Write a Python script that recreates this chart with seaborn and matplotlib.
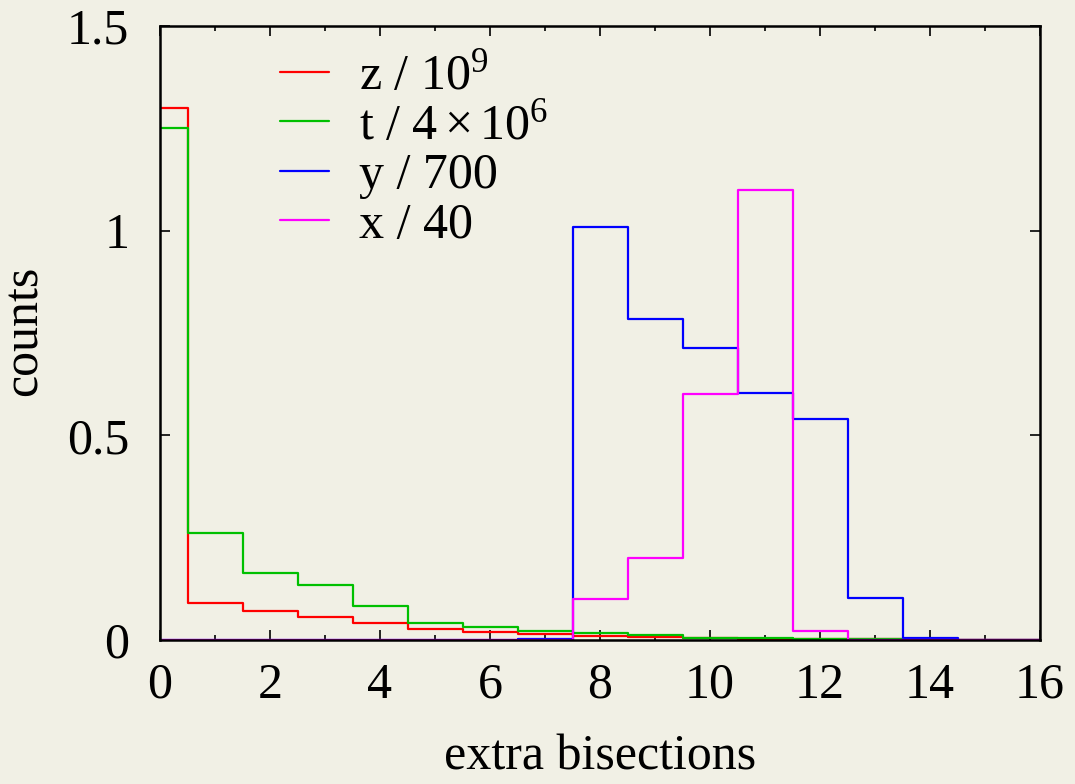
import numpy as np
import pandas as pd
import matplotlib
matplotlib.use("Agg")
import matplotlib.pyplot as plt
import seaborn as sns

# histogram values per bin (bins centred on integers 0..16)
bisections = list(range(17))
z_vals = [1.30, 0.090, 0.070, 0.056, 0.041, 0.028, 0.019, 0.014, 0.010,
          0.0066, 0.004, 0.003, 0.002, 0.0015, 0.001, 0.0005, 0.0005]
t_vals = [1.25, 0.262, 0.164, 0.135, 0.082, 0.041, 0.032, 0.022, 0.016,
          0.011, 0.006, 0.004, 0.003, 0.002, 0.002, 0.001, 0.001]
y_vals = [0, 0, 0, 0, 0, 0, 0, 0.002, 1.01, 0.785, 0.714, 0.604, 0.540,
          0.102, 0.006, 0.001, 0]
x_vals = [0, 0, 0, 0, 0, 0, 0, 0, 0.100, 0.200, 0.600, 1.100, 0.023,
          0, 0, 0, 0]

labels = [r"z / $10^9$", r"t / $4\times10^6$", "y / 700", "x / 40"]
colors = ["#ff0000", "#00c000", "#0000ff", "#ff00ff"]

frames = []
for lab, vals in zip(labels, [z_vals, t_vals, y_vals, x_vals]):
    frames.append(pd.DataFrame({"bisections": bisections, "counts": vals, "series": lab}))
df = pd.concat(frames, ignore_index=True)

bg = "#f1f0e5"
fs = 36
sns.set_theme(style="ticks")
plt.rcParams["font.family"] = ["Liberation Serif", "DejaVu Serif"]
plt.rcParams["mathtext.fontset"] = "custom"
plt.rcParams["mathtext.rm"] = "Liberation Serif"
plt.rcParams["mathtext.it"] = "Liberation Serif:italic"
plt.rcParams["mathtext.bf"] = "Liberation Serif:bold"
plt.rcParams["text.color"] = "black"
plt.rcParams["axes.labelcolor"] = "black"

fig = plt.figure(figsize=(10.75, 7.84), dpi=100, facecolor=bg)
ax = fig.add_axes([160 / 1075, 1 - 640 / 784, 880 / 1075, 614 / 784])
ax.set_facecolor(bg)

sns.lineplot(data=df, x="bisections", y="counts", hue="series", hue_order=labels,
             palette=colors, drawstyle="steps-mid", linewidth=1.6, ax=ax,
             estimator=None, sort=False)

ax.set_xlim(0, 16)
ax.set_ylim(0, 1.5)
ax.set_xticks(range(0, 17, 2))
ax.set_xticks(range(1, 16, 2), minor=True)
ax.set_yticks([0, 0.5, 1, 1.5])
ax.set_yticklabels(["0", "0.5", "1", "1.5"])
ax.tick_params(axis="both", which="major", direction="in", length=7.5, width=1.2,
               top=True, right=True, labelsize=fs, colors="black")
ax.tick_params(axis="x", which="major", pad=16)
ax.tick_params(axis="y", which="major", pad=22)
ax.tick_params(axis="x", which="minor", direction="in", length=3.75, width=1.2,
               top=True, bottom=True, colors="black")
for s in ax.spines.values():
    s.set_linewidth(1.8)
    s.set_color("black")
    s.set_visible(True)

ax.set_xlabel("extra bisections", fontsize=fs, color="black")
ax.set_ylabel("counts", fontsize=fs, color="black")
ax.xaxis.set_label_coords(0.5, -0.153)
ax.yaxis.set_label_coords(-0.128, 0.503)

leg = ax.legend(loc="upper left", bbox_to_anchor=(0.136, 0.955), frameon=False,
                fontsize=fs, handlelength=0.98, handletextpad=0.6,
                labelspacing=0.06, borderaxespad=0, borderpad=0)
for t in leg.get_texts():
    t.set_color("black")

fig.savefig("out.png", dpi=100, facecolor=bg)
